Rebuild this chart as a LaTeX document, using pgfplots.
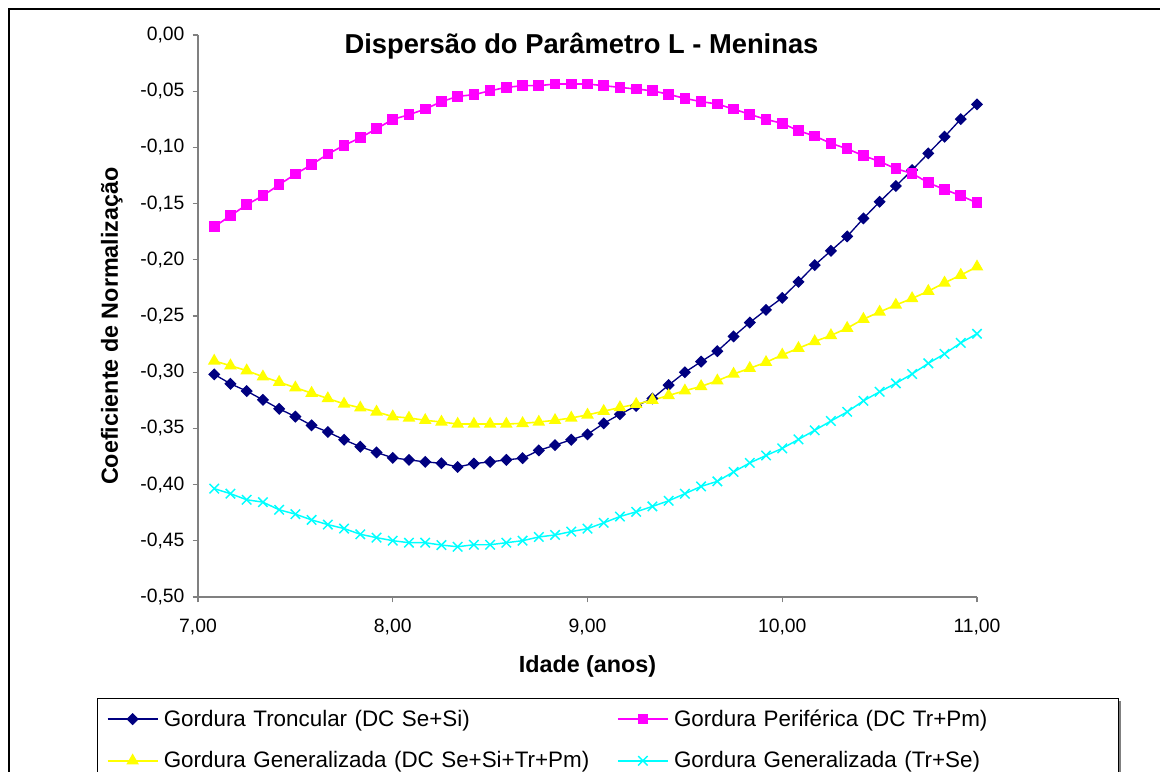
\documentclass[border=0pt]{standalone}
\usepackage{pgfplots}
\pgfplotsset{compat=1.18}
\usepackage{pgfplotstable}
\usepackage{fontspec}
\setmainfont{Liberation Sans}

\definecolor{serNavy}{RGB}{0,0,128}
\definecolor{serPink}{RGB}{255,0,255}
\definecolor{serYellow}{RGB}{255,255,0}
\definecolor{serCyan}{RGB}{0,255,255}
\definecolor{axGray}{RGB}{128,128,128}

% idade (anos) | Troncular | Periferica | Generalizada DC | Generalizada Tr+Se
\pgfplotstableread{
x        trc      per      gen      trse
7.0833  -0.3019  -0.1706  -0.2900  -0.4036
7.1667  -0.3103  -0.1608  -0.2942  -0.4081
7.2500  -0.3168  -0.1510  -0.2986  -0.4135
7.3333  -0.3246  -0.1430  -0.3040  -0.4156
7.4167  -0.3326  -0.1332  -0.3088  -0.4224
7.5000  -0.3395  -0.1237  -0.3138  -0.4263
7.5833  -0.3473  -0.1154  -0.3186  -0.4314
7.6667  -0.3532  -0.1059  -0.3234  -0.4356
7.7500  -0.3601  -0.0982  -0.3282  -0.4391
7.8333  -0.3663  -0.0914  -0.3317  -0.4442
7.9167  -0.3714  -0.0834  -0.3353  -0.4472
8.0000  -0.3762  -0.0751  -0.3395  -0.4499
8.0833  -0.3780  -0.0709  -0.3407  -0.4517
8.1667  -0.3798  -0.0659  -0.3428  -0.4517
8.2500  -0.3810  -0.0593  -0.3443  -0.4538
8.3333  -0.3843  -0.0546  -0.3461  -0.4553
8.4167  -0.3813  -0.0531  -0.3461  -0.4535
8.5000  -0.3798  -0.0496  -0.3461  -0.4535
8.5833  -0.3780  -0.0466  -0.3461  -0.4517
8.6667  -0.3765  -0.0451  -0.3455  -0.4499
8.7500  -0.3696  -0.0451  -0.3443  -0.4466
8.8333  -0.3649  -0.0436  -0.3428  -0.4448
8.9167  -0.3601  -0.0436  -0.3407  -0.4418
9.0000  -0.3553  -0.0436  -0.3380  -0.4392
9.0833  -0.3455  -0.0451  -0.3347  -0.4340
9.1667  -0.3374  -0.0466  -0.3314  -0.4284
9.2500  -0.3300  -0.0481  -0.3285  -0.4242
9.3333  -0.3234  -0.0496  -0.3249  -0.4194
9.4167  -0.3115  -0.0528  -0.3207  -0.4144
9.5000  -0.3001  -0.0564  -0.3165  -0.4081
9.5833  -0.2906  -0.0593  -0.3126  -0.4016
9.6667  -0.2813  -0.0614  -0.3076  -0.3971
9.7500  -0.2682  -0.0659  -0.3016  -0.3887
9.8333  -0.2558  -0.0706  -0.2965  -0.3807
9.9167  -0.2445  -0.0751  -0.2912  -0.3741
10.0000 -0.2338  -0.0786  -0.2846  -0.3678
10.0833 -0.2196  -0.0852  -0.2787  -0.3598
10.1667 -0.2047  -0.0899  -0.2727  -0.3517
10.2500 -0.1920  -0.0964  -0.2673  -0.3434
10.3333 -0.1792  -0.1012  -0.2608  -0.3353
10.4167 -0.1632  -0.1074  -0.2528  -0.3255
10.5000 -0.1484  -0.1125  -0.2464  -0.3174
10.5833 -0.1344  -0.1190  -0.2402  -0.3099
10.6667 -0.1202  -0.1231  -0.2344  -0.3016
10.7500 -0.1053  -0.1315  -0.2279  -0.2921
10.8333 -0.0905  -0.1374  -0.2205  -0.2837
10.9167 -0.0748  -0.1430  -0.2136  -0.2739
11.0000 -0.0617  -0.1493  -0.2062  -0.2658
}\dadosL

\begin{document}
\begin{tikzpicture}
  % page area (1 px = 0.75 pt)
  \path[use as bounding box] (0pt,0pt) rectangle (870pt,578.25pt);
  % chart area frame
  \draw[black, line width=0.8pt] (6.75pt,-15pt) -- (6.75pt,571.5pt) -- (900pt,571.5pt);

  \begin{axis}[
    at={(148.5pt,130.5pt)}, anchor=south west,
    scale only axis, width=584.25pt, height=421.5pt,
    xmin=7, xmax=11, ymin=-0.5, ymax=0,
    axis x line*=bottom, axis y line*=left,
    axis line style={-, draw=axGray, line width=1pt},
    xtick={7,8,9,10,11},
    ytick={-0.5,-0.45,...,0.01},
    tick align=outside, major tick length=4pt,
    tick style={draw=axGray, line width=0.8pt},
    /pgf/number format/assume math mode=true,
    /pgf/number format/.cd, fixed, fixed zerofill, precision=2, use comma,
    /pgfplots/.cd,
    ticklabel style={font=\fontsize{14.5}{16}\selectfont},
    yticklabel style={inner sep=2pt, xshift=-4pt},
    xticklabel style={inner sep=4pt, yshift=-8pt},
    scaled ticks=false,
    title={Dispersão do Parâmetro L - Meninas},
    title style={font=\bfseries\fontsize{20.5}{24}\selectfont,
      at={(axis description cs:0.4923,0.9537)}, anchor=base},
    xlabel={Idade (anos)},
    xlabel style={font=\bfseries\fontsize{17.5}{20}\selectfont,
      at={(axis description cs:0.5,-0.1347)}, anchor=base},
    ylabel={Coeficiente de Normalização},
    ylabel style={font=\bfseries\fontsize{17.5}{20}\selectfont,
      at={(axis description cs:-0.1027,0.482)}, anchor=base},
    legend columns=2,
    legend cell align=left,
    legend style={
      name=leg,
      at={(axis description cs:-0.1297,-0.1797)}, anchor=north west,
      draw=black, line width=0.8pt, fill=white,
      font=\fontsize{16.8}{19}\selectfont,
      inner xsep=7pt, inner ysep=2pt,
      nodes={text width=322pt, inner xsep=4pt, inner ysep=6.5pt},
      /tikz/every odd column/.append style={column sep=0pt},
      /tikz/every even column/.append style={column sep=14pt},
      row sep=4.5pt,
    },
    legend image code/.code={%
      \draw[mark repeat=2, mark phase=2]
        plot coordinates {(0pt,0pt) (18.75pt,0pt) (37.5pt,0pt)};},
  ]
    \addplot[serNavy, line width=1pt, mark=square*, mark size=2.7pt,
      mark options={rotate=45, solid, fill=serNavy}]
      table[x=x, y=trc] {\dadosL};
    \addlegendentry{Gordura Troncular (DC Se+Si)}
    \addplot[serPink, line width=1.2pt, mark=square*, mark size=3.4pt,
      mark options={solid, fill=serPink}]
      table[x=x, y=per] {\dadosL};
    \addlegendentry{Gordura Periférica (DC Tr+Pm)}
    \addplot[serYellow, line width=1.2pt, mark=triangle*, mark size=4.3pt,
      mark options={solid, fill=serYellow}]
      table[x=x, y=gen] {\dadosL};
    \addlegendentry{Gordura Generalizada (DC Se+Si+Tr+Pm)}
    \addplot[serCyan, line width=1.1pt, mark=x, mark size=5pt,
      mark options={solid, line width=1.1pt}]
      table[x=x, y=trse] {\dadosL};
    \addlegendentry{Gordura Generalizada (Tr+Se)}
  \end{axis}
  % legend shadow on the right
  \fill[gray] ([xshift=0.4pt,yshift=-2pt]leg.north east) rectangle ([xshift=2pt,yshift=-20pt]leg.south east);
\end{tikzpicture}
\end{document}
